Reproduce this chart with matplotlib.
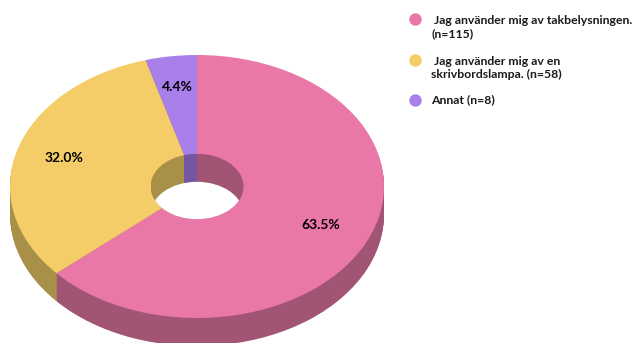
import matplotlib
matplotlib.use('Agg')
import matplotlib.pyplot as plt
import numpy as np
from matplotlib.patches import Ellipse

counts = [115, 58, 8]
labels = [' Jag använder mig av takbelysningen.\n(n=115)',
          ' Jag använder mig av en\nskrivbordslampa. (n=58)',
          'Annat (n=8)']
colors = ['#E977A8', '#F4CD68', '#A97FEA']
dark_colors = ['#A25474', '#A99048', '#7556A2']

W, H = 634, 343
CX, CY = 197, 186.5
RX, RY = 187, 131.5
DEPTH = 28 / RY
HOLE = 46.5 / RX

plt.rcParams['font.family'] = ['Lato', 'DejaVu Sans']

fig = plt.figure(figsize=(W / 100, H / 100), dpi=100)
ax = fig.add_axes([0, 0, 1, 1])

# side of the disc: stacked dark pies, deepest first
for off in np.arange(DEPTH, 0, -1 / RY):
    ax.pie(counts, colors=dark_colors, startangle=90, counterclock=False,
           center=(0, -off), radius=1, frame=False,
           wedgeprops={'linewidth': 0.4, 'edgecolor': 'none'})

wedges, _ = ax.pie(counts, colors=colors, startangle=90, counterclock=False,
                   center=(0, 0), radius=1, frame=False)

ax.set_aspect('auto')
ax.set_xlim((0 - CX) / RX, (W - CX) / RX)
ax.set_ylim((CY - H) / RY, CY / RY)
ax.axis('off')

# hole: inner wall seen at the back, white where you look through
hole = Ellipse((0, 0), 2 * HOLE, 2 * HOLE, facecolor='none', edgecolor='none')
ax.add_patch(hole)
share = counts[2] / sum(counts)
split = -HOLE * np.sin(2 * np.pi * share)
for x0, x1, c in [(-HOLE, split, dark_colors[1]), (split, 0, dark_colors[2]),
                  (0, HOLE, dark_colors[0])]:
    span = ax.axvspan(x0, x1, color=c, linewidth=0)
    span.set_clip_path(hole)
through = Ellipse((0, -DEPTH), 2 * HOLE, 2 * HOLE, facecolor='white', edgecolor='none', zorder=5)
ax.add_patch(through)
through.set_clip_path(hole)

# overlay in pixel coordinates for the text and legend
over = fig.add_axes([0, 0, 1, 1])
over.set_xlim(0, W)
over.set_ylim(H, 0)
over.axis('off')
over.patch.set_alpha(0)

pct_pos = [(321, 225), (64, 158), (177, 87)]
for n, (px, py) in zip(counts, pct_pos):
    over.text(px, py, f'{n / sum(counts) * 100:.1f}%', ha='center', va='center',
              fontsize=10, fontweight='bold', color='black')

legend_y = [19, 60, 100]
text_y = [27, 68, 100]
for lab, c, my, ty in zip(labels, colors, legend_y, text_y):
    over.scatter([415], [my], s=80, color=c, linewidths=0)
    over.text(431, ty, lab, ha='left', va='center', fontsize=8.8, fontweight='bold',
              color='#1a1a1a', linespacing=1.3)

fig.savefig('out.png', dpi=100)
